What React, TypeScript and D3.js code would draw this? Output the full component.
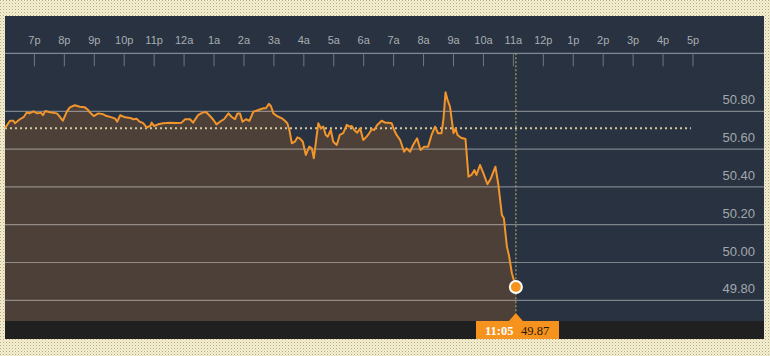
import React from 'react';
import * as d3 from 'd3';

// minutes since 18:00 of the previous day
const times = [1, 11, 18, 21, 31, 39, 45, 50, 58, 66, 73, 77, 82, 91, 105, 111, 117, 125, 131, 141, 151, 161, 166, 171, 179, 188, 198, 205, 215, 222, 226, 232, 242, 252, 258, 265, 270, 278, 285, 292, 295, 300, 308, 318, 332, 345, 355, 362, 372, 378, 388, 397, 404, 412, 419, 425, 432, 440, 449, 455, 462, 467, 472, 477, 484, 491, 499, 509, 519, 524, 530, 534, 539, 546, 556, 562, 567, 571, 576, 582, 587, 592, 598, 604, 611, 616, 620, 629, 634, 639, 644, 648, 654, 659, 666, 672, 679, 686, 691, 696, 701, 707, 713, 719, 726, 731, 736, 741, 747, 756, 763, 769, 776, 781, 786, 793, 801, 806, 813, 819, 827, 834, 841, 849, 856, 863, 869, 876, 880, 884, 888, 893, 900, 904, 908, 915, 924, 930, 936, 942, 946, 953, 960, 968, 975, 984, 990, 997, 1001, 1007, 1011, 1017, 1025];
const values = [50.71, 50.75, 50.75, 50.737, 50.758, 50.771, 50.795, 50.789, 50.8, 50.789, 50.793, 50.779, 50.802, 50.795, 50.789, 50.771, 50.75, 50.798, 50.821, 50.832, 50.824, 50.821, 50.811, 50.795, 50.775, 50.789, 50.784, 50.775, 50.768, 50.761, 50.745, 50.779, 50.768, 50.765, 50.758, 50.761, 50.747, 50.737, 50.715, 50.722, 50.74, 50.722, 50.731, 50.737, 50.74, 50.738, 50.74, 50.758, 50.758, 50.74, 50.78, 50.793, 50.796, 50.775, 50.754, 50.731, 50.745, 50.758, 50.789, 50.771, 50.758, 50.789, 50.789, 50.745, 50.758, 50.75, 50.798, 50.807, 50.816, 50.816, 50.839, 50.828, 50.789, 50.775, 50.763, 50.75, 50.737, 50.701, 50.631, 50.639, 50.662, 50.657, 50.639, 50.569, 50.613, 50.604, 50.551, 50.737, 50.71, 50.719, 50.675, 50.666, 50.701, 50.639, 50.622, 50.675, 50.684, 50.728, 50.719, 50.722, 50.701, 50.687, 50.71, 50.648, 50.666, 50.684, 50.705, 50.701, 50.728, 50.75, 50.74, 50.74, 50.737, 50.701, 50.675, 50.648, 50.586, 50.604, 50.586, 50.622, 50.657, 50.595, 50.613, 50.613, 50.675, 50.719, 50.684, 50.684, 50.763, 50.901, 50.86, 50.824, 50.684, 50.71, 50.675, 50.66, 50.653, 50.454, 50.463, 50.489, 50.463, 50.516, 50.472, 50.414, 50.446, 50.507, 50.41, 50.251, 50.234, 50.084, 50.04, 49.943, 49.87];

const hourLabels = ['7p', '8p', '9p', '10p', '11p', '12a', '1a', '2a', '3a', '4a', '5a', '6a', '7a', '8a', '9a', '10a', '11a', '12p', '1p', '2p', '3p', '4p', '5p'];
const yTicks = [49.8, 50.0, 50.2, 50.4, 50.6, 50.8];
const prevClose = 50.71;
const lastTimeLabel = '11:05';
const lastValue = 49.87;

const W = 770;
const H = 356;
const panel = { x0: 5, x1: 764, y0: 16, y1: 339 };
const axisY = 53.3;
const plotBottom = 321;

export default function App() {
  const x = d3.scaleLinear().domain([60, 1380]).range([34.4, 693]);
  const y = d3.scaleLinear().domain([49.8, 50.8]).range([300.3, 111.3]);
  const data = times.map((t, i) => ({ t, v: values[i] }));
  const area = d3
    .area<{ t: number; v: number }>()
    .x((d) => x(d.t))
    .y0(plotBottom)
    .y1((d) => y(d.v));
  const line = d3
    .line<{ t: number; v: number }>()
    .x((d) => x(d.t))
    .y((d) => y(d.v));
  const last = data[data.length - 1];
  const lx = x(last.t);
  const ly = y(last.v);
  const hours = hourLabels.map((l, i) => ({ l, t: 60 + 60 * i }));

  return (
    <div style={{ position: 'fixed', left: 0, top: 0 }}>
      <svg width={W} height={H} style={{ display: 'block' }}>
        <defs>
          <pattern id="dots" width="3" height="3" patternUnits="userSpaceOnUse">
            <rect width="3" height="3" fill="#f4eed3" />
            <rect width="1" height="1" fill="#b8ab7c" />
            <rect x="1.5" y="1.5" width="1" height="1" fill="#d6cba2" />
          </pattern>
        </defs>
        <rect width={W} height={H} fill="url(#dots)" />
        <rect x={panel.x0} y={panel.y0} width={panel.x1 - panel.x0} height={panel.y1 - panel.y0} fill="#283240" />
        {/* area */}
        <path d={area(data) || ''} fill="#4c4038" />
        {/* gridlines */}
        {yTicks.map((v) => (
          <line key={v} x1={panel.x0} x2={panel.x1} y1={y(v)} y2={y(v)} stroke="#ffffff" strokeOpacity={0.4} strokeWidth={1.2} />
        ))}
        {yTicks.map((v) => (
          <text key={'t' + v} x={755} y={y(v) - 7} textAnchor="end" fill="#a3a8ae" fontFamily="Liberation Sans, Arial, sans-serif" fontSize={13}>
            {v.toFixed(2)}
          </text>
        ))}
        {/* previous close */}
        <line x1={panel.x0} x2={x(1380) - 2} y1={y(prevClose)} y2={y(prevClose)} stroke="#d4c79e" strokeWidth={2} strokeDasharray="2,3" />
        {/* top axis */}
        <line x1={panel.x0} x2={panel.x1} y1={axisY} y2={axisY} stroke="#7f8893" strokeWidth={1.2} />
        {hours.map((h) => (
          <g key={h.l}>
            <line x1={x(h.t)} x2={x(h.t)} y1={axisY} y2={axisY + 13} stroke="#6f7884" strokeWidth={1} />
            <text x={x(h.t)} y={44} textAnchor="middle" fill="#a8adb3" fontFamily="Liberation Sans, Arial, sans-serif" fontSize={11}>
              {h.l}
            </text>
          </g>
        ))}
        {/* current time vertical */}
        <line x1={lx} x2={lx} y1={axisY} y2={313} stroke="#a7a266" strokeWidth={1.2} strokeDasharray="2,2" />
        {/* price line */}
        <path d={line(data) || ''} fill="none" stroke="#f2952c" strokeWidth={2} strokeLinejoin="round" />
        <circle cx={lx} cy={ly} r={6} fill="#f7921e" stroke="#ffffff" strokeWidth={2} />
        {/* bottom strip */}
        <rect x={panel.x0} y={plotBottom} width={panel.x1 - panel.x0} height={panel.y1 - plotBottom} fill="#202020" />
        <rect x={476} y={plotBottom} width={83} height={panel.y1 - plotBottom} fill="#f6921e" />
        <path d={`M${lx},313 L${lx - 7},${plotBottom} L${lx + 7},${plotBottom} Z`} fill="#f6921e" />
        <text x={485} y={335} fill="#ffffff" fontFamily="Liberation Serif, Times New Roman, serif" fontWeight="bold" fontSize={12.5}>
          {lastTimeLabel}
        </text>
        <text x={521} y={335} fill="#2a1a0a" fontFamily="Liberation Serif, Times New Roman, serif" fontSize={12.5}>
          {lastValue.toFixed(2)}
        </text>
      </svg>
    </div>
  );
}
